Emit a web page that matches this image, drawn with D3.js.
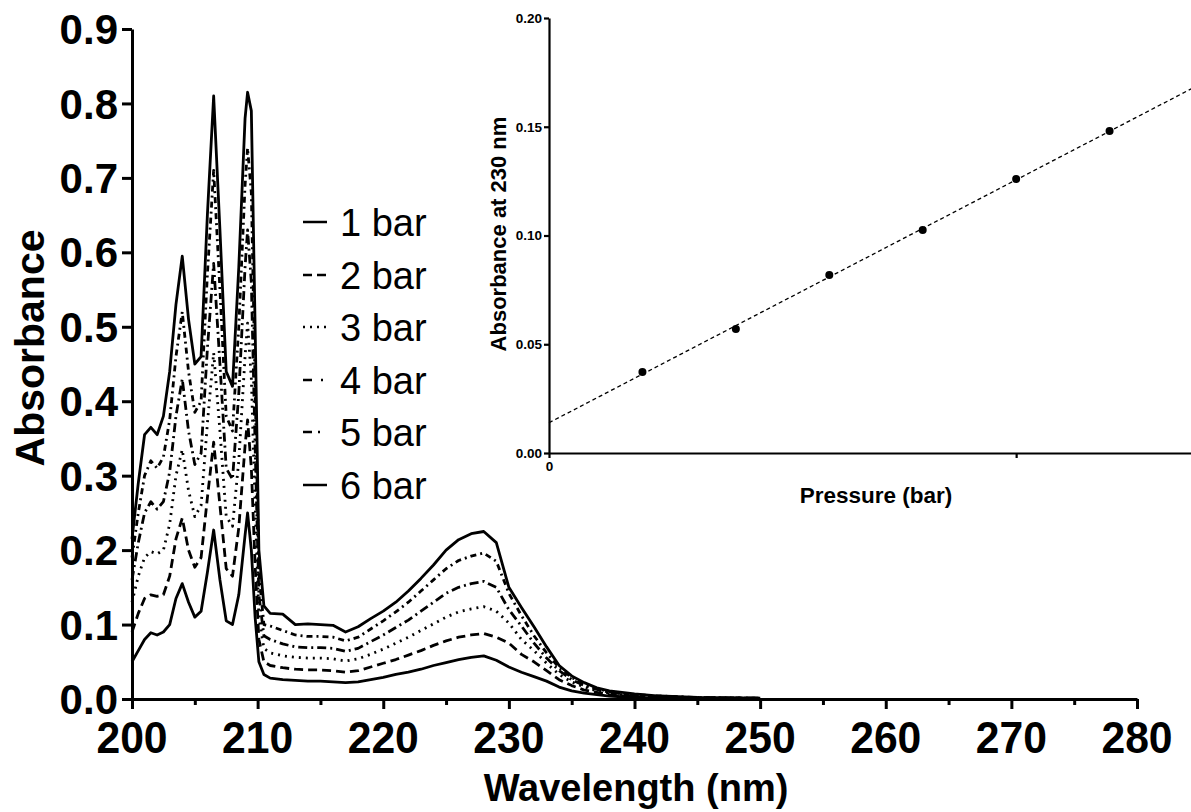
<!DOCTYPE html>
<html>
<head>
<meta charset="utf-8">
<script src="https://cdn.jsdelivr.net/npm/d3@7"></script>
<style>
  html, body { margin: 0; padding: 0; background: #fff; }
  svg { display: block; }
  text { font-family: "Liberation Sans", Arial, sans-serif; fill: #000; }
</style>
</head>
<body>
<svg id="chart" width="1191" height="812"></svg>
<script>
// ---------------- DATA ----------------
const wavelengths = [200, 200.5, 201, 201.5, 202, 202.5, 203, 203.5, 204, 204.5, 205, 205.5, 206, 206.5, 207, 207.5, 208, 208.5, 209, 209.2, 209.5, 209.8, 210.1, 210.5, 211, 212, 213, 214, 215, 216, 217, 218, 219, 220, 221, 222, 223, 224, 225, 226, 227, 228, 229, 230, 231, 232, 233, 234, 235, 236, 237, 238, 240, 242, 245, 250];

const abs1bar = [0.05, 0.065, 0.08, 0.089, 0.086, 0.09, 0.10, 0.135, 0.155, 0.13, 0.11, 0.118, 0.17, 0.227, 0.16, 0.105, 0.10, 0.14, 0.22, 0.25, 0.20, 0.11, 0.05, 0.033, 0.028, 0.026, 0.025, 0.024, 0.024, 0.023, 0.022, 0.023, 0.026, 0.029, 0.033, 0.036, 0.040, 0.045, 0.049, 0.053, 0.056, 0.058, 0.052, 0.043, 0.036, 0.030, 0.024, 0.016, 0.011, 0.008, 0.006, 0.004, 0.002, 0.001, 0.001, 0.0];
const abs2bar = [0.09, 0.115, 0.135, 0.14, 0.138, 0.14, 0.165, 0.215, 0.243, 0.20, 0.177, 0.19, 0.27, 0.345, 0.26, 0.175, 0.165, 0.23, 0.34, 0.375, 0.31, 0.18, 0.08, 0.05, 0.045, 0.042, 0.040, 0.039, 0.039, 0.038, 0.036, 0.038, 0.043, 0.048, 0.053, 0.059, 0.065, 0.072, 0.078, 0.083, 0.086, 0.088, 0.083, 0.075, 0.060, 0.050, 0.038, 0.026, 0.018, 0.012, 0.009, 0.006, 0.003, 0.002, 0.001, 0.001];
const abs3bar = [0.13, 0.165, 0.19, 0.198, 0.195, 0.20, 0.235, 0.30, 0.335, 0.28, 0.245, 0.26, 0.37, 0.465, 0.36, 0.245, 0.232, 0.32, 0.46, 0.505, 0.43, 0.26, 0.11, 0.068, 0.062, 0.058, 0.056, 0.055, 0.055, 0.054, 0.051, 0.054, 0.060, 0.067, 0.075, 0.083, 0.092, 0.101, 0.110, 0.117, 0.121, 0.124, 0.118, 0.102, 0.080, 0.065, 0.048, 0.033, 0.023, 0.016, 0.011, 0.008, 0.004, 0.003, 0.001, 0.001];
const abs4bar = [0.16, 0.21, 0.25, 0.265, 0.255, 0.265, 0.305, 0.38, 0.43, 0.36, 0.315, 0.33, 0.47, 0.585, 0.45, 0.31, 0.295, 0.41, 0.58, 0.63, 0.56, 0.34, 0.14, 0.085, 0.080, 0.074, 0.070, 0.069, 0.069, 0.068, 0.064, 0.068, 0.077, 0.086, 0.096, 0.106, 0.118, 0.130, 0.142, 0.150, 0.155, 0.158, 0.150, 0.120, 0.098, 0.075, 0.055, 0.038, 0.026, 0.018, 0.013, 0.009, 0.005, 0.003, 0.002, 0.001];
const abs5bar = [0.19, 0.25, 0.30, 0.32, 0.31, 0.325, 0.375, 0.46, 0.52, 0.44, 0.385, 0.40, 0.57, 0.71, 0.55, 0.38, 0.36, 0.50, 0.69, 0.74, 0.68, 0.42, 0.17, 0.10, 0.098, 0.092, 0.086, 0.084, 0.084, 0.083, 0.078, 0.083, 0.094, 0.105, 0.117, 0.130, 0.145, 0.160, 0.175, 0.186, 0.192, 0.196, 0.185, 0.142, 0.112, 0.085, 0.062, 0.042, 0.029, 0.020, 0.014, 0.010, 0.006, 0.004, 0.002, 0.001];
const abs6bar = [0.215, 0.29, 0.355, 0.365, 0.355, 0.38, 0.44, 0.53, 0.595, 0.51, 0.45, 0.46, 0.65, 0.81, 0.63, 0.44, 0.42, 0.58, 0.78, 0.815, 0.79, 0.50, 0.20, 0.125, 0.115, 0.114, 0.100, 0.101, 0.100, 0.099, 0.090, 0.097, 0.108, 0.118, 0.130, 0.145, 0.162, 0.180, 0.200, 0.214, 0.222, 0.225, 0.210, 0.150, 0.123, 0.097, 0.070, 0.045, 0.031, 0.022, 0.015, 0.011, 0.007, 0.004, 0.002, 0.001];

const seriesNames = ["1 bar", "2 bar", "3 bar", "4 bar", "5 bar", "6 bar"];
const seriesValues = [abs1bar, abs2bar, abs3bar, abs4bar, abs5bar, abs6bar];

const yTicksMain = [0, 0.1, 0.2, 0.3, 0.4, 0.5, 0.6, 0.7, 0.8, 0.9];
const xTicksMain = [200, 210, 220, 230, 240, 250, 260, 270, 280];
const xMinorTicksMain = [205, 215, 225, 235, 245, 255, 265, 275];

// inset data
const pressures = [1, 2, 3, 4, 5, 6];
const abs230 = [0.0372, 0.057, 0.0818, 0.1025, 0.126, 0.148];
const yTicksInset = [0, 0.05, 0.10, 0.15, 0.20];
const xTicksInset = [0, 5];
const xTickLabelsInset = ["0", ""];

// ---------------- STYLE ----------------
const dashes = [null, "9,5", "2,5", "9,4,2,4", "6,4,2,4", null];

const svg = d3.select("#chart");

// ---------------- MAIN CHART ----------------
const x = d3.scaleLinear().domain([200, 280]).range([132, 1137]);
const y = d3.scaleLinear().domain([0, 0.9]).range([699, 29]);

const line = d3.line().x((d, i) => x(wavelengths[i])).y(d => y(d));

const curves = svg.append("g");
seriesValues.forEach((vals, k) => {
  curves.append("path")
    .attr("d", line(vals))
    .attr("fill", "none")
    .attr("stroke", "#000")
    .attr("stroke-width", 2.8)
    .attr("stroke-linejoin", "round")
    .attr("stroke-dasharray", dashes[k]);
});

// y axis
const yAxis = svg.append("g").attr("transform", "translate(132,0)")
  .call(d3.axisLeft(y).tickValues(yTicksMain).tickSize(10).tickSizeOuter(0).tickFormat(""));
yAxis.selectAll("path, line").attr("stroke", "#000").attr("stroke-width", 3);
yAxis.selectAll("text").remove();

svg.append("g").selectAll("text").data(yTicksMain).join("text")
  .attr("transform", d => `translate(118,${y(d)})`)
  .attr("dy", "0.36em")
  .attr("text-anchor", "end")
  .attr("font-size", 42)
  .attr("font-weight", "bold")
  .text(d => d3.format(".1f")(d));

// x axis
const xAxis = svg.append("g").attr("transform", "translate(0,699)")
  .call(d3.axisBottom(x).tickValues(xTicksMain).tickSize(10).tickSizeOuter(0).tickFormat(""));
xAxis.selectAll("path, line").attr("stroke", "#000").attr("stroke-width", 3);
const xMinor = svg.append("g").attr("transform", "translate(0,699)")
  .call(d3.axisBottom(x).tickValues(xMinorTicksMain).tickSize(6).tickSizeOuter(0).tickFormat(""));
xMinor.select(".domain").remove();
xMinor.selectAll("line").attr("stroke", "#000").attr("stroke-width", 3);

svg.append("g").selectAll("text").data(xTicksMain).join("text")
  .attr("transform", d => `translate(${x(d)},753) scale(0.97,1)`)
  .attr("text-anchor", "middle")
  .attr("font-size", 44)
  .attr("font-weight", "bold")
  .text(d => d);

// axis titles
svg.append("text")
  .attr("transform", "translate(44,348) rotate(-90)")
  .attr("text-anchor", "middle")
  .attr("font-size", 41)
  .attr("font-weight", "bold")
  .text("Absorbance");

svg.append("text")
  .attr("x", 636).attr("y", 801)
  .attr("text-anchor", "middle")
  .attr("font-size", 38)
  .attr("font-weight", "bold")
  .text("Wavelength (nm)");

// legend
const legendY = [222, 275, 327, 380, 432, 485];
const legendDash = [null, "9,5", "2,5", "9,9,2,9", "9,6,2,9", null];
const lg = svg.append("g");
seriesNames.forEach((name, k) => {
  lg.append("line")
    .attr("x1", 303).attr("x2", 327)
    .attr("y1", legendY[k]).attr("y2", legendY[k])
    .attr("stroke", "#000").attr("stroke-width", 2.5)
    .attr("stroke-dasharray", legendDash[k]);
  lg.append("text")
    .attr("transform", `translate(340,${legendY[k]})`)
    .attr("dy", "0.36em")
    .attr("font-size", 38)
    .text(name);
});

// ---------------- INSET ----------------
const xi = d3.scaleLinear().domain([0, 7]).range([549, 1203]);
const yi = d3.scaleLinear().domain([0, 0.2]).range([453, 18]);

// regression line from the data
const mx = d3.mean(pressures), my = d3.mean(abs230);
const sxy = d3.sum(pressures.map((p, i) => (p - mx) * (abs230[i] - my)));
const sxx = d3.sum(pressures.map(p => (p - mx) * (p - mx)));
const slope = sxy / sxx, intercept = my - slope * mx;

svg.append("line")
  .attr("x1", xi(0)).attr("y1", yi(intercept))
  .attr("x2", xi(7)).attr("y2", yi(intercept + slope * 7))
  .attr("stroke", "#000").attr("stroke-width", 1.3)
  .attr("stroke-dasharray", "4,3");

svg.append("g").selectAll("circle").data(pressures).join("circle")
  .attr("cx", d => xi(d))
  .attr("cy", (d, i) => yi(abs230[i]))
  .attr("r", 4)
  .attr("fill", "#000");

const yiAxis = svg.append("g").attr("transform", "translate(549,0)")
  .call(d3.axisLeft(yi).tickValues(yTicksInset).tickSize(5).tickSizeOuter(0).tickFormat(d3.format(".2f")));
yiAxis.selectAll("path, line").attr("stroke", "#000").attr("stroke-width", 2.2);
yiAxis.selectAll("text")
  .attr("font-size", 13.5).attr("font-weight", "bold")
  .attr("font-family", "Liberation Sans, Arial, sans-serif")
  .attr("x", -7);

const xiAxis = svg.append("g").attr("transform", "translate(0,453)")
  .call(d3.axisBottom(xi).tickValues(xTicksInset).tickSize(5).tickSizeOuter(0)
    .tickFormat((d, i) => xTickLabelsInset[i]));
xiAxis.selectAll("path, line").attr("stroke", "#000").attr("stroke-width", 2.2);
xiAxis.selectAll("text")
  .attr("font-size", 13.5).attr("font-weight", "bold")
  .attr("font-family", "Liberation Sans, Arial, sans-serif")
  .attr("y", 8);

svg.append("text")
  .attr("transform", "translate(506,234) rotate(-90)")
  .attr("text-anchor", "middle")
  .attr("font-size", 22)
  .attr("font-weight", "bold")
  .text("Absorbance at 230 nm");

svg.append("text")
  .attr("x", 876).attr("y", 503)
  .attr("text-anchor", "middle")
  .attr("font-size", 22.5)
  .attr("font-weight", "bold")
  .text("Pressure (bar)");
</script>
</body>
</html>
